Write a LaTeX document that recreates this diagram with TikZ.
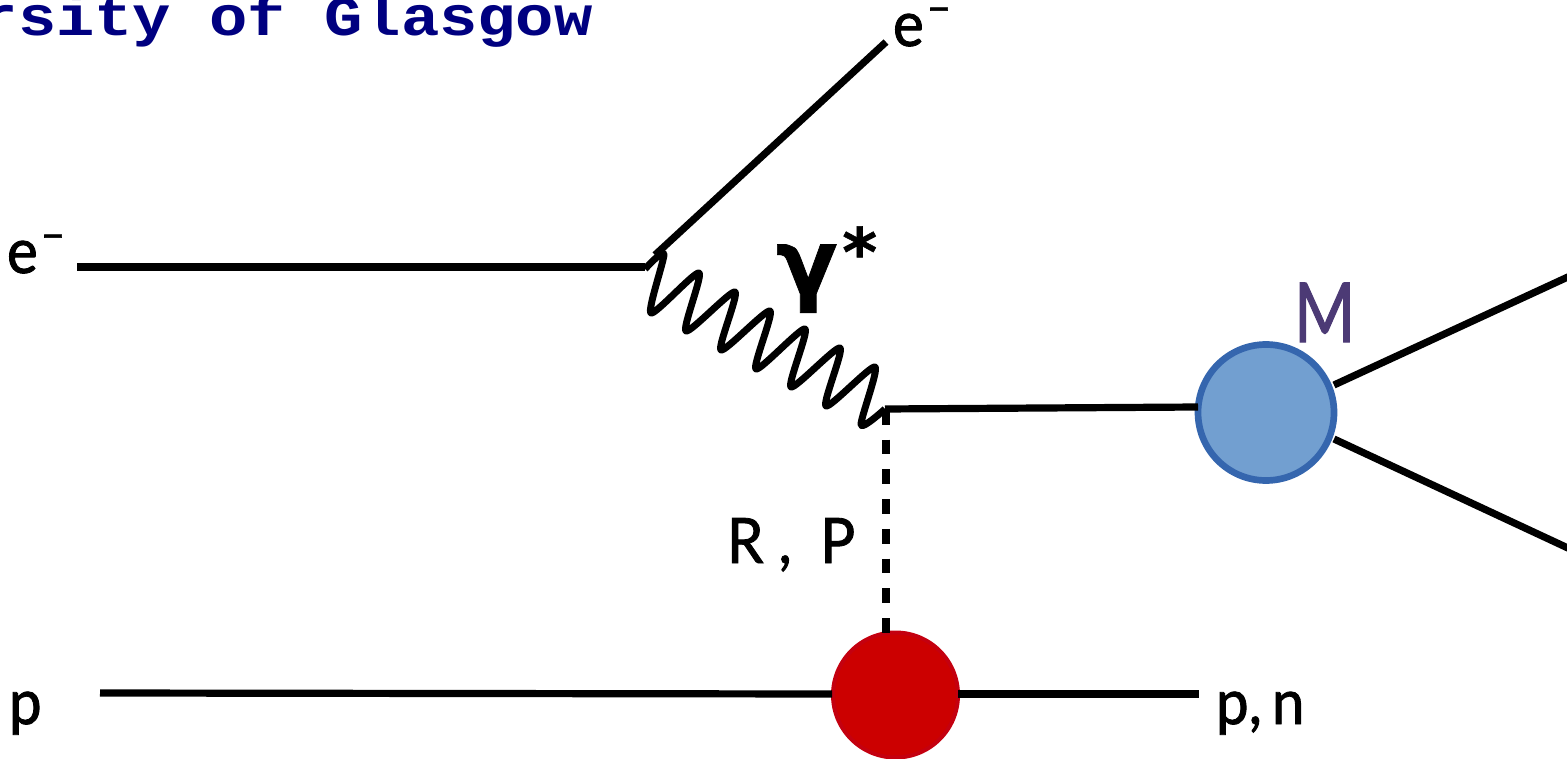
\documentclass[tikz,border=0pt]{standalone}
\usepackage{fontspec}
\setmainfont[FakeStretch=0.93,FakeBold=1.4]{Lato}
\newfontfamily\titlefont[FakeStretch=1.14]{Liberation Mono}
\newfontfamily\gammafont[FakeBold=0.8]{DejaVu Sans}
\definecolor{titleblue}{HTML}{000080}
\definecolor{mesonfill}{HTML}{729FD0}
\definecolor{mesonedge}{HTML}{3566AE}
\definecolor{protonred}{HTML}{CC0000}
\definecolor{protonedge}{HTML}{C4000F}
\definecolor{mesonlabel}{HTML}{4C3A75}
\tikzset{
  x=0.75pt,y=-0.75pt,
  line/.style={draw=black,line width=5.4pt},
  wiggle/.style={draw=black,line width=5.2pt,line join=round},
  label/.style={inner sep=0pt,outer sep=0pt,anchor=base west,font=\fontsize{47}{50}\selectfont},
  blob/.style={circle,inner sep=0pt,outer sep=0pt},
}
\begin{document}
\begin{tikzpicture}
\useasboundingbox (0,0) rectangle (1567,759);
\clip (0,0) rectangle (1567,759);
\node[anchor=base east,inner sep=0pt,text=titleblue,font=\titlefont\bfseries\fontsize{42}{46}\selectfont] (title) at (593,36) {University of Glasgow};
\coordinate (einL) at (77,267);
\coordinate (einR) at (645,267);
\coordinate (eoutA) at (655,255);
\coordinate (eoutB) at (886,42);
\coordinate (v) at (885,409);
\coordinate (blueL) at (1198,407);
\coordinate (dashA) at (886,410);
\coordinate (dashB) at (886,633);
\coordinate (pL) at (100,693);
\coordinate (pM) at (832,694);
\coordinate (nM) at (958,694);
\coordinate (pR) at (1199,694);
\coordinate (m1s) at (1334,385);
\coordinate (m1e) at (1570,276);
\coordinate (m2s) at (1334,439);
\coordinate (m2e) at (1570,549);
\coordinate (w0) at (645,269);
\node[blob,fill=protonred,draw=protonedge,line width=3pt,minimum size=93.75pt] (red) at (895.5,695) {};
\node[blob,fill=mesonfill,draw=mesonedge,line width=5pt,minimum size=102pt] (blue) at (1266,412.5) {};
\draw[line] (einL) -- (einR);
\draw[line] (eoutA) -- (eoutB);
\draw[line] (v) -- (blueL);
\draw[line,dash pattern=on 11pt off 11.3pt] (dashA) -- (dashB);
\draw[line] (pL) -- (pM);
\draw[line] (nM) -- (pR);
\draw[line] (m1s) -- (m1e);
\draw[line] (m2s) -- (m2e);
\draw[wiggle] plot[smooth,tension=0.42] coordinates {(645,269) (664,254) (651,313) (699,273) (686,331) (735,292) (721,350) (770,311) (756,369) (805,329) (791,387) (840,348) (826,406) (875,367) (861,425) (885,409)};
\node[label] (e1) at (7,273) {e\kern0.06em\raisebox{0.36em}{\fontsize{32}{32}\selectfont −}};
\node[label] (e2) at (893,46) {e\kern0.06em\raisebox{0.36em}{\fontsize{32}{32}\selectfont −}};
\node[label] (p1) at (9,724) {p};
\node[label] (pn) at (1216,724) {p,\kern0.16em n};
\node[label] (rp) at (727,563) {R , \,\kern0.05em P};
\node[label,text=mesonlabel,font=\fontsize{62}{64}\selectfont] (M) at (1294,342) {\scalebox{0.86}[1]{M}};
\node[label,font=\gammafont\bfseries\fontsize{68}{70}\selectfont] (gam) at (776,294) {γ\kern0.05em\raisebox{0.2em}{\fontsize{50}{52}\selectfont *}};
\end{tikzpicture}
\end{document}
